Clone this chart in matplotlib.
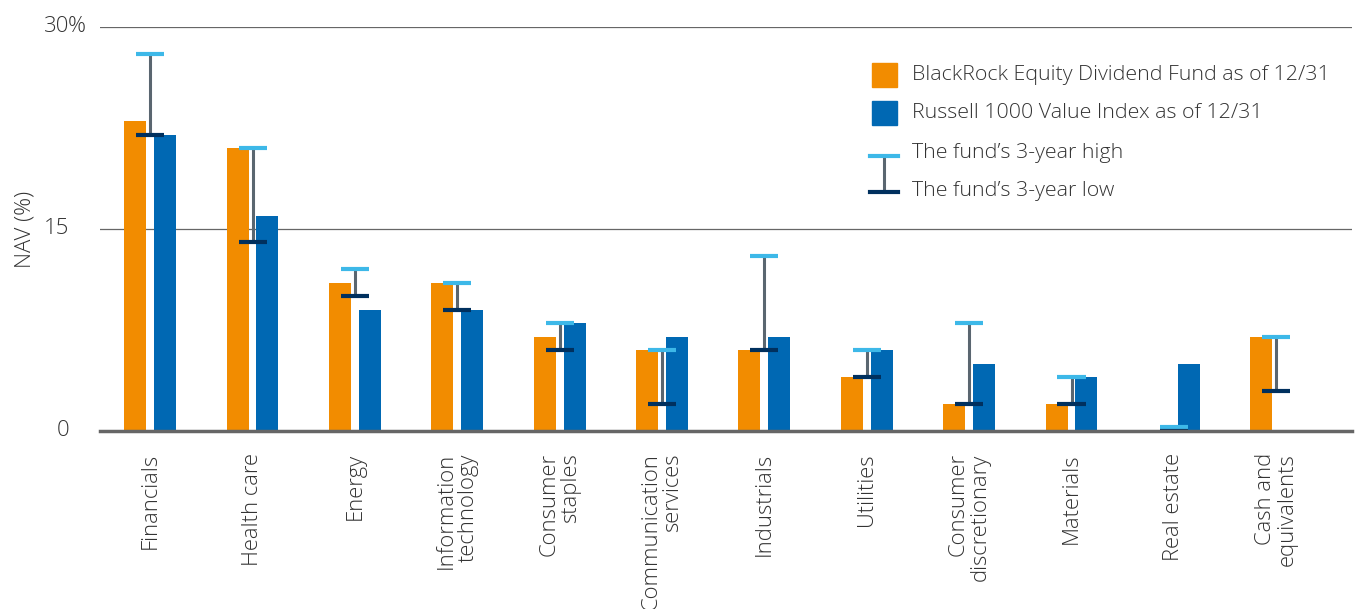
import matplotlib.pyplot as plt
import matplotlib.transforms as mtransforms
import numpy as np

plt.rcParams['font.family'] = ['Open Sans', 'DejaVu Sans']

# data
sectors = ['Financials', 'Health care', 'Energy', 'Information\ntechnology',
           'Consumer\nstaples', 'Communication\nservices', 'Industrials',
           'Utilities', 'Consumer\ndiscretionary', 'Materials', 'Real estate',
           'Cash and\nequivalents']
fund = [23, 21, 11, 11, 7, 6, 6, 4, 2, 2, 0, 7]
index = [22, 16, 9, 9, 8, 7, 7, 6, 5, 4, 5, 0]
high = [28, 21, 12, 11, 8, 6, 13, 6, 8, 4, 0.3, 7]
low = [22, 14, 10, 9, 6, 2, 6, 4, 2, 2, 0, 3]

ORANGE = '#F28C00'
BLUE = '#0068B3'
CAP_HI = '#3DB8E8'
CAP_LO = '#00305E'
WHISK = '#5A6670'
TXT = '#333333'
FW = 'light'

fig = plt.figure(figsize=(13.61, 6.09), dpi=100)
ax = fig.add_axes([100/1361, 1-431/609, 1252/1361, 404/609])

x = np.arange(len(sectors))
w = 0.215
off = 0.146
ax.bar(x - off, fund, w, color=ORANGE, zorder=2)
ax.bar(x + off, index, w, color=BLUE, zorder=2)

ax.vlines(x, low, high, color=WHISK, lw=2.2, zorder=3)
cw = 0.137
ax.hlines(high, x - cw, x + cw, color=CAP_HI, lw=3, zorder=4)
ax.hlines(low, x - cw, x + cw, color=CAP_LO, lw=3, zorder=5)

ax.set_xlim(-0.49, 11.74)
ax.set_ylim(0, 30)
for s in ax.spines.values():
    s.set_visible(False)
ax.axhline(0, color='#666666', lw=2.5, zorder=6, clip_on=False)
for g in (15, 30):
    ax.axhline(g, color='#666666', lw=0.9, zorder=1)

ax.set_yticks([0, 15, 30])
ax.set_yticklabels(['0', '15', '30'], fontsize=16, color=TXT, fontweight=FW)
ax.tick_params(axis='y', length=0, pad=22)
up = mtransforms.ScaledTranslation(0, 3/100, fig.dpi_scale_trans)
for lab in ax.get_yticklabels():
    lab.set_transform(lab.get_transform() + up)
pct = ax.text(0, 30, '%', ha='left', va='center_baseline', fontsize=16,
              color=TXT, fontweight=FW,
              transform=ax.get_yaxis_transform())
pct.set_transform(pct.get_transform() + mtransforms.ScaledTranslation(
    -23.4/72, 3/100, fig.dpi_scale_trans))
ax.set_ylabel('NAV (%)', fontsize=16, color=TXT, labelpad=6, fontweight=FW)

ax.set_xticks(x)
ax.set_xticklabels(sectors, rotation=90, fontsize=15.8, color=TXT,
                   multialignment='right', fontweight=FW, linespacing=1.05)
ax.tick_params(axis='x', length=0, pad=16)

# legend drawn by hand
lx, lw_ = 872/1361, 25/1361
rows = [75, 113, 153, 191]
for c, yy in zip([ORANGE, BLUE], rows[:2]):
    fig.add_artist(plt.Rectangle((lx, 1-(yy+12)/609), lw_, 24/609,
                                 color=c, transform=fig.transFigure))
labels = ['BlackRock Equity Dividend Fund as of 12/31',
          'Russell 1000 Value Index as of 12/31',
          'The fund\u2019s 3-year high', 'The fund\u2019s 3-year low']
for t, yy in zip(labels, rows):
    fig.text(912/1361, 1-yy/609, t, fontsize=15.4, color=TXT, va='center',
             fontweight=FW)
cx = 884/1361
fig.add_artist(plt.Line2D([cx, cx], [1-156/609, 1-191/609], color=WHISK,
                          lw=2.2, transform=fig.transFigure))
fig.add_artist(plt.Line2D([870/1361, 898/1361], [1-156/609]*2, color=CAP_HI,
                          lw=3, transform=fig.transFigure))
fig.add_artist(plt.Line2D([870/1361, 898/1361], [1-192/609]*2, color=CAP_LO,
                          lw=3, transform=fig.transFigure))

fig.savefig('out.png', dpi=100)
